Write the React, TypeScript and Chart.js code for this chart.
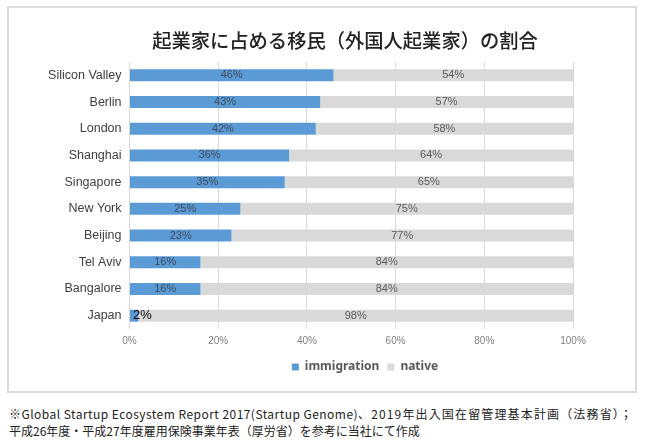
import React, { useEffect, useRef } from "react";
import { Chart, registerables } from "chart.js";

Chart.register(...registerables);

const titleText = "起業家に占める移民（外国人起業家）の割合";
const cities = ["Silicon Valley", "Berlin", "London", "Shanghai", "Singapore", "New York", "Beijing", "Tel Aviv", "Bangalore", "Japan"];
const immigration = [46, 43, 42, 36, 35, 25, 23, 16, 16, 2];
const native = [54, 57, 58, 64, 65, 75, 77, 84, 84, 98];
const seriesNames = ["immigration", "native"];
const footLine1a = "※Global Startup Ecosystem Report 2017(Startup Genome)";
const footLine1b = "、2019年出入国在留管理基本計画（法務省）；";
const footLine2 = "平成26年度・平成27年度雇用保険事業年表（厚労省）を参考に当社にて作成";

const labelPlugin = {
  id: "barLabels",
  afterDatasetsDraw(chart: any) {
    const ctx = chart.ctx;
    ctx.save();
    chart.data.datasets.forEach((ds: any, di: number) => {
      const meta = chart.getDatasetMeta(di);
      meta.data.forEach((bar: any, i: number) => {
        const v = ds.data[i];
        const left = Math.min(bar.x, bar.base);
        const right = Math.max(bar.x, bar.base);
        ctx.textBaseline = "middle";
        if (v < 5) {
          ctx.font = "13px 'Liberation Sans', Arial, sans-serif";
          ctx.fillStyle = "#000000";
          ctx.textAlign = "left";
          ctx.fillText(v + "%", left + 3, bar.y);
        } else {
          ctx.font = "11px 'Liberation Sans', Arial, sans-serif";
          ctx.fillStyle = di === 0 ? "#3f4a5c" : "#595959";
          ctx.textAlign = "center";
          ctx.fillText(v + "%", (left + right) / 2, bar.y);
        }
      });
    });
    ctx.restore();
  },
};

// shift the legend box so it is centred where the original places it
const legendShift = {
  id: "legendShift",
  afterLayout(chart: any) {
    if (chart.legend) {
      chart.legend.left = 80;
      chart.legend.right = 650;
    }
  },
};

export default function App() {
  const ref = useRef<HTMLCanvasElement>(null);
  useEffect(() => {
    const chart = new Chart(ref.current!, {
      type: "bar",
      data: {
        labels: cities,
        datasets: [
          { label: seriesNames[0], data: immigration, backgroundColor: "#5B9BD5", categoryPercentage: 1, barPercentage: 0.45 },
          { label: seriesNames[1], data: native, backgroundColor: "#D9D9D9", categoryPercentage: 1, barPercentage: 0.45 },
        ],
      },
      options: {
        indexAxis: "y",
        animation: false,
        responsive: false,
        maintainAspectRatio: false,
        layout: { padding: { left: 10, right: 77, top: 62, bottom: 17 } },
        scales: {
          x: {
            stacked: true,
            min: 0,
            max: 100,
            ticks: { stepSize: 20, callback: (v: any) => v + "%", color: "#808080", font: { size: 10, family: "'Liberation Sans', Arial, sans-serif" }, padding: 6 },
            grid: { color: "#d9d9d9", drawTicks: false },
            border: { display: false },
          },
          y: {
            stacked: true,
            ticks: { color: "#404040", font: { size: 12.5, family: "'Liberation Sans', Arial, sans-serif" }, padding: 8 },
            grid: { display: false, drawTicks: false },
            border: { display: false },
            afterFit: (s: any) => { s.width = 119.5; },
          },
        },
        plugins: {
          legend: {
            position: "bottom",
            labels: {
              boxWidth: 7,
              boxHeight: 7,
              color: "#595959",
              font: { size: 12, weight: "bold", family: "'Noto Sans', sans-serif" },
              padding: 8,
            },
          },
          tooltip: { enabled: false },
        },
      },
      plugins: [labelPlugin, legendShift],
    });
    return () => chart.destroy();
  }, []);

  return (
    <div style={{ position: "fixed", left: 0, top: 0, width: 650, height: 447, background: "#fff", overflow: "hidden" }}>
      <div style={{ position: "absolute", left: 7, top: 6, width: 630, height: 387, border: "2px solid #dcdcdc", boxSizing: "border-box" }} />
      <canvas ref={ref} width={650} height={400} style={{ position: "absolute", left: 0, top: 0, width: 650, height: 400 }} />
      <div style={{ position: "absolute", left: 145, width: 400, top: 27, textAlign: "center", fontFamily: "'Noto Sans CJK JP', sans-serif", fontWeight: 500, fontSize: 19.3, lineHeight: "26px", color: "#222", whiteSpace: "nowrap" }}>
        {titleText}
      </div>
      <div style={{ position: "absolute", left: 9, top: 405, fontFamily: "'Noto Sans CJK JP', sans-serif", fontSize: 12, lineHeight: "17px", color: "#222", whiteSpace: "nowrap" }}>
        <div>
          <span style={{ letterSpacing: "0.46px" }}>{footLine1a}</span>
          <span style={{ letterSpacing: "1.15px" }}>{footLine1b}</span>
        </div>
        <div>{footLine2}</div>
      </div>
    </div>
  );
}
